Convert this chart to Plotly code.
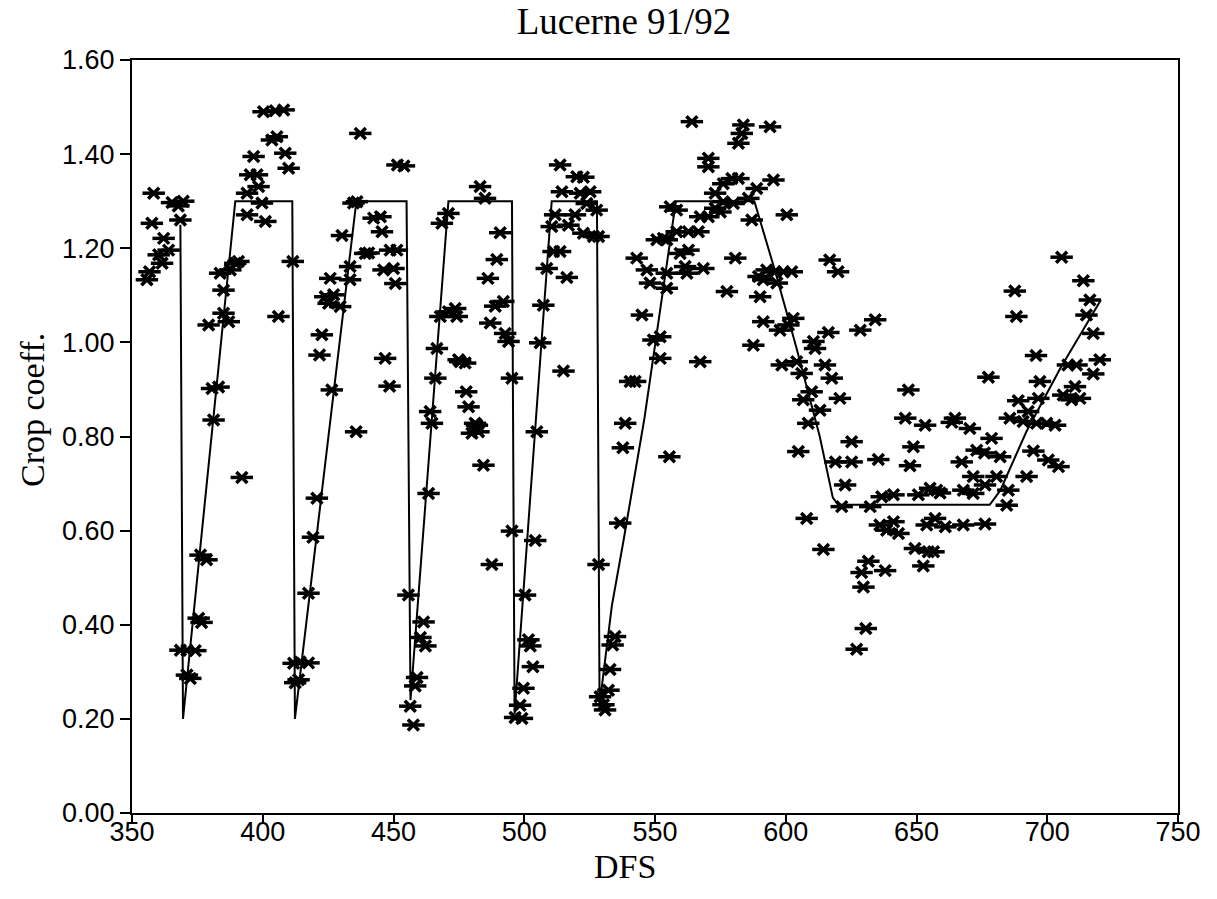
import plotly.graph_objects as go

# Observed crop coefficient points (DFS, Kc)
dfs = [
    358.3, 365.3, 367.7, 369.6, 368.5, 357.6, 362.1, 364.0, 360.2, 361.5, 355.7, 356.7,
    392.0, 376.2, 378.5, 375.5, 376.6, 371.0, 368.5, 374.2, 371.0, 372.3,
    381.2, 380.6, 383.1, 379.3, 385.0, 387.0, 385.0, 383.7, 387.6, 389.5, 390.7,
    400.3, 404.8, 408.0, 405.4, 403.5, 408.6, 409.9, 396.5, 395.2, 397.8, 398.4, 394.0, 399.7, 394.0, 401.0, 406.0, 411.5,
    420.7, 419.2, 417.5, 411.8, 414.3, 417.5, 413.7, 412.4, 435.7,
    422.6, 421.7, 426.4, 423.9, 427.1, 425.2, 429.6, 425.8, 430.3, 433.4, 433.4,
    437.3, 436.0, 434.7, 442.4, 445.0, 445.6, 439.2, 440.5, 448.7, 451.3, 446.2, 450.0, 450.7, 451.5, 454.0, 446.8, 448.5,
    455.7, 461.5, 460.3, 462.2, 459.0, 458.3, 456.4, 457.6, 463.4,
    464.0, 464.7, 466.0, 466.6, 467.9, 471.0, 473.6, 474.2, 468.5, 471.0, 474.9, 477.4, 475.5, 477.8, 478.7, 481.2, 481.9, 480.0, 482.5, 484.4, 487.6,
    483.1, 485.0, 490.8, 489.5, 486.1, 488.9, 492.0, 487.0, 492.7, 494.0, 495.3, 495.3,
    504.8, 504.2, 500.3, 501.6, 502.3, 503.3, 499.7, 498.4, 496.5, 499.1,
    507.3, 506.1, 508.6, 511.2, 513.7, 510.5, 516.9, 511.8, 519.4, 514.4, 521.4, 525.2, 513.7, 520.1, 522.6, 523.9, 527.7, 522.6, 526.5, 528.4, 516.3, 515.0,
    528.4, 536.7, 537.7, 538.6, 534.7, 533.8, 532.8, 532.2, 529.0, 530.3, 530.9, 555.5,
    540.5, 542.4, 543.0, 546.9, 548.1, 545.0, 549.4, 552.0, 550.7, 554.5, 554.5, 554.5, 555.8, 552.0,
    564.1, 583.8, 583.2, 581.9, 594.0, 570.4, 570.4, 579.4, 576.1, 581.9, 595.3, 588.9, 573.0, 585.7, 576.1, 580.0,
    573.0, 575.0, 558.3, 567.3, 570.4, 587.0, 600.4, 558.3, 562.8, 566.6, 553.2, 562.8, 559.6, 580.7, 561.5, 568.5,
    562.2, 577.5, 567.3,
    589.6, 592.7, 595.9, 602.3, 599.1, 596.6, 591.4, 590.2, 591.4, 597.8, 602.9, 601.0, 587.6, 616.8, 620.0, 610.6,
    611.2, 616.3, 628.5, 634.2, 598.5, 604.2, 606.1, 615.0, 617.6, 609.9, 606.7, 620.7, 613.1, 608.6, 604.8,
    646.9, 645.7, 653.3, 625.2, 619.0, 625.2, 635.4, 648.8, 647.5, 622.7, 621.4, 632.3, 636.7, 641.2, 650.7, 655.2,
    608.0, 636.0, 641.2, 638.6, 643.1, 653.9, 649.4, 654.5, 614.4, 631.6, 629.0, 638.0, 629.7, 652.6, 630.6, 627.1,
    705.5, 713.8, 716.3, 715.0, 717.6, 687.6, 688.2, 695.7, 720.1, 707.9, 711.2, 717.6, 697.2, 677.5, 710.6, 706.1,
    709.3, 712.5, 688.9, 696.6, 692.7, 685.7, 690.8, 695.9, 699.8, 703.0, 664.7, 663.5, 670.4, 678.7, 673.0, 676.0,
    682.0, 667.3, 694.7, 700.4, 704.3, 671.7, 680.6, 692.1, 685.1, 667.9, 671.7, 676.2, 657.7, 659.0, 684.5, 657.1,
    661.0, 667.9, 676.2, 656.5,
]
kc = [
    1.317, 1.297, 1.290, 1.300, 1.260, 1.253, 1.221, 1.196, 1.186, 1.168, 1.133, 1.150,
    0.713, 0.548, 0.538, 0.414, 0.405, 0.346, 0.346, 0.345, 0.293, 0.286,
    0.835, 0.902, 0.905, 1.037, 1.062, 1.044, 1.111, 1.147, 1.154, 1.168, 1.172,
    1.490, 1.492, 1.494, 1.437, 1.430, 1.402, 1.370, 1.395, 1.356, 1.356, 1.331, 1.317, 1.296, 1.271, 1.257, 1.055, 1.172,
    0.669, 0.586, 0.467, 0.318, 0.321, 0.319, 0.283, 0.277, 0.810,
    1.016, 0.973, 0.899, 1.097, 1.101, 1.083, 1.076, 1.136, 1.227, 1.161, 1.133,
    1.444, 1.299, 1.296, 1.264, 1.267, 1.235, 1.189, 1.190, 1.196, 1.196, 1.154, 1.157, 1.125, 1.377, 1.375, 0.966, 0.907,
    0.463, 0.406, 0.373, 0.355, 0.288, 0.270, 0.227, 0.187, 0.679,
    0.853, 0.828, 0.924, 0.987, 1.055, 1.065, 1.072, 1.055, 1.253, 1.274, 0.963, 0.956, 0.959, 0.895, 0.863, 0.828, 0.824, 0.807, 0.810, 0.739, 0.528,
    1.331, 1.306, 1.233, 1.176, 1.136, 1.077, 1.087, 1.041, 1.019, 1.002, 0.924, 0.599,
    0.810, 0.579, 0.463, 0.368, 0.355, 0.311, 0.265, 0.229, 0.203, 0.201,
    1.079, 0.999, 1.157, 1.193, 1.193, 1.246, 1.249, 1.271, 1.271, 1.320, 1.317, 1.320, 1.377, 1.352, 1.351, 1.295, 1.281, 1.232, 1.225, 1.225, 1.138, 0.939,
    0.528, 0.616, 0.776, 0.828, 0.375, 0.357, 0.305, 0.261, 0.247, 0.230, 0.219, 0.757,
    0.917, 0.917, 1.179, 1.154, 1.126, 1.058, 1.005, 0.966, 1.218, 1.218, 1.147, 1.115, 1.288, 1.012,
    1.469, 1.462, 1.444, 1.423, 1.458, 1.391, 1.373, 1.348, 1.337, 1.348, 1.345, 1.327, 1.317, 1.306, 1.299, 1.295,
    1.285, 1.277, 1.281, 1.267, 1.267, 1.260, 1.271, 1.235, 1.235, 1.235, 1.221, 1.196, 1.189, 1.179, 1.161, 1.157,
    1.147, 1.108, 0.959,
    1.140, 1.154, 1.150, 1.150, 1.150, 1.126, 1.133, 1.097, 1.044, 1.026, 1.051, 1.037, 0.994, 1.175, 1.150, 1.002,
    0.987, 1.021, 1.026, 1.048, 0.952, 0.959, 0.934, 0.952, 0.924, 0.895, 0.878, 0.881, 0.856, 0.828, 0.768,
    0.899, 0.839, 0.824, 0.789, 0.746, 0.746, 0.751, 0.778, 0.738, 0.697, 0.651, 0.651, 0.672, 0.676, 0.676, 0.690,
    0.626, 0.612, 0.619, 0.601, 0.594, 0.612, 0.562, 0.555, 0.560, 0.535, 0.511, 0.515, 0.480, 0.525, 0.392, 0.348,
    1.181, 1.131, 1.090, 1.058, 1.019, 1.109, 1.055, 0.972, 0.963, 0.952, 0.952, 0.933, 0.917, 0.926, 0.906, 0.888,
    0.878, 0.881, 0.876, 0.881, 0.853, 0.839, 0.832, 0.828, 0.828, 0.824, 0.839, 0.830, 0.817, 0.796, 0.771, 0.765,
    0.757, 0.746, 0.769, 0.750, 0.736, 0.715, 0.715, 0.715, 0.686, 0.686, 0.679, 0.697, 0.686, 0.680, 0.654, 0.626,
    0.608, 0.612, 0.614, 0.555,
]

# Crop coefficient curve (vertices)
curve_dfs = [368.5, 369.5, 389.5, 411.3, 412.3, 435.8, 455.0, 456.5, 471.0, 495.3, 496.3, 510.5, 527.8, 528.8,
             533.5, 538.0, 546.0, 558.0, 588.0, 596.0, 604.0, 613.0, 618.0, 620.0, 678.0, 682.0, 692.0, 705.0, 720.5]
curve_kc = [1.25, 0.20, 1.30, 1.30, 0.20, 1.30, 1.30, 0.24, 1.30, 1.30, 0.21, 1.30, 1.30, 0.23,
            0.44, 0.58, 0.84, 1.30, 1.30, 1.15, 0.99, 0.80, 0.67, 0.655, 0.655, 0.685, 0.81, 0.945, 1.09]

x_ticks = [350, 400, 450, 500, 550, 600, 650, 700, 750]
y_ticks = [0.0, 0.2, 0.4, 0.6, 0.8, 1.0, 1.2, 1.4, 1.6]

fig = go.Figure()
fig.add_trace(go.Scatter(x=curve_dfs, y=curve_kc, mode="lines",
                         line=dict(color="black", width=2), showlegend=False, hoverinfo="skip"))
fig.add_trace(go.Scatter(x=dfs, y=kc, mode="markers", showlegend=False,
                         marker=dict(symbol="x-thin-open", size=11, color="black",
                                     line=dict(color="black", width=3.5))))
fig.add_trace(go.Scatter(x=dfs, y=kc, mode="markers", showlegend=False,
                         marker=dict(symbol="line-ew-open", size=16, color="black",
                                     line=dict(color="black", width=3.5))))

tickfont = dict(family="Liberation Sans, Arial, sans-serif", size=27, color="black")
axis_common = dict(showline=True, linecolor="black", linewidth=2, mirror=True,
                   ticks="outside", tickwidth=2, tickcolor="black",
                   showgrid=False, zeroline=False, tickfont=tickfont)

fig.update_xaxes(range=[350, 750], tickvals=x_ticks, ticktext=[str(v) for v in x_ticks],
                 ticklen=8, ticklabelstandoff=-14, **axis_common)
fig.update_yaxes(range=[0, 1.6], tickvals=y_ticks, ticktext=[f"{v:.2f}" for v in y_ticks],
                 ticklen=10, **axis_common)

serif = "Liberation Serif, Times New Roman, serif"
fig.update_layout(
    width=1217, height=899,
    margin=dict(l=132, r=39, t=60, b=86),
    paper_bgcolor="white", plot_bgcolor="white",
    title=dict(text="Lucerne 91/92", x=624/1217, xref="container", xanchor="center",
               y=1 - 21/899, yref="container", yanchor="middle",
               font=dict(family=serif, size=37, color="black")),
    annotations=[
        dict(text="DFS", xref="paper", yref="paper", x=(625 - 132) / 1046, y=(813 - 866) / 753,
             xanchor="center", yanchor="middle", showarrow=False,
             font=dict(family=serif, size=34, color="black")),
        dict(text="Crop coeff.", xref="paper", yref="paper", x=(32 - 132) / 1046, y=(813 - 410) / 753,
             xanchor="center", yanchor="middle", showarrow=False, textangle=-90,
             font=dict(family=serif, size=34, color="black")),
    ],
)

fig.write_html("out.html")
